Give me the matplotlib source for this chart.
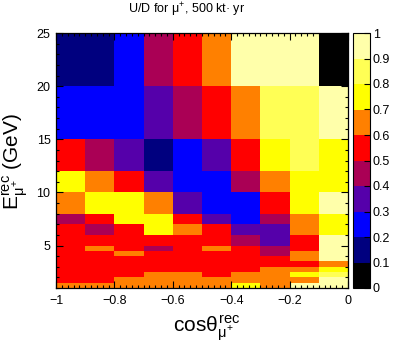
import matplotlib
matplotlib.use('Agg')
import matplotlib.pyplot as plt
import numpy as np
from matplotlib.colors import ListedColormap, BoundaryNorm
from matplotlib.ticker import MultipleLocator

plt.rcParams['font.family'] = ['Liberation Sans', 'DejaVu Sans']
plt.rcParams['mathtext.fontset'] = 'custom'
plt.rcParams['mathtext.rm'] = 'Liberation Sans'
plt.rcParams['mathtext.it'] = 'Liberation Sans'
plt.rcParams['mathtext.bf'] = 'Liberation Sans:bold'

# bin edges
cos_edges = [-1.0, -0.9, -0.8, -0.7, -0.6, -0.5, -0.4, -0.3, -0.2, -0.1, 0.0]
e_edges = [1, 1.5, 2, 2.5, 3, 3.5, 4, 4.5, 5, 6, 7, 8, 10, 12, 15, 20, 25]

# U/D ratio per bin, rows go from lowest energy bin to highest
ud_ratio = [
    [0.65, 0.65, 0.65, 0.65, 0.65, 0.65, 0.75, 0.65, 0.95, 0.95],  # 1-1.5
    [0.55, 0.55, 0.65, 0.65, 0.65, 0.65, 0.65, 0.65, 0.65, 0.95],  # 1.5-2
    [0.55, 0.55, 0.55, 0.65, 0.65, 0.55, 0.65, 0.65, 0.75, 0.85],  # 2-2.5
    [0.55, 0.55, 0.55, 0.55, 0.55, 0.55, 0.55, 0.65, 0.65, 0.75],  # 2.5-3
    [0.55, 0.55, 0.55, 0.55, 0.55, 0.55, 0.55, 0.55, 0.55, 0.65],  # 3-3.5
    [0.55, 0.55, 0.55, 0.55, 0.55, 0.55, 0.55, 0.55, 0.65, 0.95],  # 3.5-4
    [0.55, 0.55, 0.65, 0.55, 0.55, 0.55, 0.55, 0.45, 0.65, 0.95],  # 4-4.5
    [0.55, 0.65, 0.55, 0.45, 0.55, 0.65, 0.55, 0.45, 0.55, 0.95],  # 4.5-5
    [0.55, 0.55, 0.55, 0.55, 0.55, 0.55, 0.45, 0.35, 0.55, 0.95],  # 5-6
    [0.55, 0.45, 0.55, 0.75, 0.65, 0.55, 0.35, 0.35, 0.65, 0.75],  # 6-7
    [0.45, 0.55, 0.75, 0.75, 0.55, 0.35, 0.25, 0.45, 0.65, 0.75],  # 7-8
    [0.65, 0.75, 0.75, 0.65, 0.35, 0.25, 0.25, 0.55, 0.75, 0.95],  # 8-10
    [0.75, 0.65, 0.55, 0.35, 0.25, 0.25, 0.45, 0.65, 0.75, 0.75],  # 10-12
    [0.55, 0.45, 0.35, 0.15, 0.25, 0.35, 0.55, 0.75, 0.85, 0.75],  # 12-15
    [0.25, 0.25, 0.25, 0.35, 0.45, 0.55, 0.65, 0.85, 0.85, 0.95],  # 15-20
    [0.15, 0.15, 0.25, 0.45, 0.55, 0.65, 0.95, 0.95, 0.95, 0.05],  # 20-25
]

levels = [0, 0.1, 0.2, 0.3, 0.4, 0.5, 0.6, 0.7, 0.8, 0.9, 1.0]
level_labels = ['0', '0.1', '0.2', '0.3', '0.4', '0.5', '0.6', '0.7', '0.8', '0.9', '1']
palette = ['#000000', '#00007f', '#0000ff', '#5500aa', '#aa0055',
           '#ff0000', '#ff8000', '#ffff00', '#ffff55', '#ffffaa']

xticks = [-1.0, -0.8, -0.6, -0.4, -0.2, 0.0]
xtick_labels = ['\u22121', '\u22120.8', '\u22120.6', '\u22120.4', '\u22120.2', '0']
yticks = [5, 10, 15, 20, 25]

cmap = ListedColormap(palette)
norm = BoundaryNorm(levels, cmap.N)

fig = plt.figure(figsize=(4.07, 3.44), dpi=100)
ax = fig.add_axes([56/407, 1-288/344, 292/407, 255/344])
mesh = ax.pcolormesh(cos_edges, e_edges, np.array(ud_ratio), cmap=cmap, norm=norm)

ax.set_xlim(-1, 0)
ax.set_ylim(1, 25)
ax.set_xticks(xticks)
ax.set_xticklabels(xtick_labels)
ax.set_yticks(yticks)
ax.xaxis.set_minor_locator(MultipleLocator(0.02))
ax.yaxis.set_minor_locator(MultipleLocator(1))
ax.tick_params(which='both', direction='in', top=True, right=True, width=0.8)
ax.tick_params(which='major', length=5, labelsize=9)
ax.tick_params(which='minor', length=2.5)
ax.tick_params(axis='x', pad=5)
ax.tick_params(axis='y', pad=4)
for s in ax.spines.values():
    s.set_linewidth(0.9)

cax = fig.add_axes([353/407, 1-288/344, 17/407, 255/344])
cb = fig.colorbar(mesh, cax=cax, ticks=levels)
cb.ax.set_yticklabels(level_labels)
cb.ax.tick_params(direction='in', length=4, width=0.8, labelsize=9, pad=2)
cb.outline.set_linewidth(0.8)

fig.text(187/407, 1-10/344, 'U/D for $\\mu^{+}$, 500 kt\u00b7 yr', ha='center', va='center', fontsize=9)
fig.text(207/407, 1-328/344, r'$\mathrm{cos}\theta^{\mathrm{rec}}_{\mu^{+}}$', ha='center', va='center', fontsize=15)
fig.text(15/407, 1-161/344, r'$\mathrm{E}^{\mathrm{rec}}_{\mu^{+}}$ (GeV)', ha='center', va='center',
         rotation=90, fontsize=15)

fig.savefig('out.png', dpi=100)
